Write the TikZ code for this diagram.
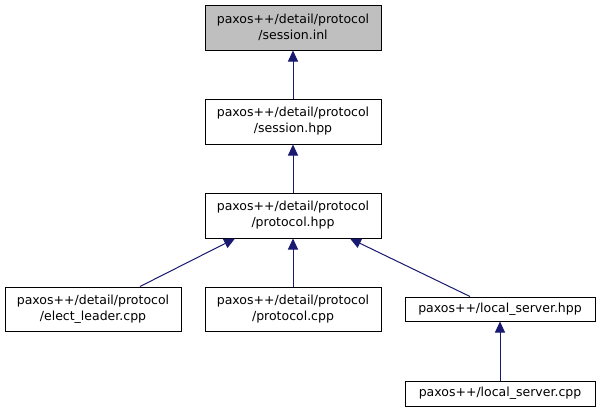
\documentclass[tikz,border=0pt]{standalone}
\usepackage{fontspec}
\setmainfont{DejaVu Sans}
\usetikzlibrary{arrows.meta}
\definecolor{edgeblue}{HTML}{191970}
\definecolor{grayfill}{HTML}{BFBFBF}
\tikzset{
  box/.style={draw=black, line width=1pt, fill=white, minimum width=176pt, minimum height=45pt, inner sep=0pt, align=center, font=\fontsize{12.5}{16}\selectfont},
  arr/.style={draw=edgeblue, line width=1pt, -{Triangle[length=11pt,width=10pt]}, shorten >=0pt}
}
\begin{document}
\begin{tikzpicture}[x=1pt,y=-1pt]
\useasboundingbox (0,0) rectangle (600,413);
\node[box, fill=grayfill] (inl) at (293,27.5) {paxos++/detail/protocol\\/session.inl};
\node[box] (shpp) at (293,121.5) {paxos++/detail/protocol\\/session.hpp};
\node[box] (phpp) at (293,215.5) {paxos++/detail/protocol\\/protocol.hpp};
\node[box, minimum height=44pt] (elect) at (93,309) {paxos++/detail/protocol\\/elect\_leader.cpp};
\node[box, minimum height=44pt] (pcpp) at (293,309) {paxos++/detail/protocol\\/protocol.cpp};
\node[box, minimum width=190pt, minimum height=24pt] (lhpp) at (500,309) {paxos++/local\_server.hpp};
\node[box, minimum width=190pt, minimum height=25pt] (lcpp) at (500,393.5) {paxos++/local\_server.cpp};
\draw[arr] (shpp.north) -- (inl.south);
\draw[arr] (phpp.north) -- (shpp.south);
\draw[arr] ([xshift=47pt]elect.north) -- ([xshift=-58pt]phpp.south);
\draw[arr] (pcpp.north) -- (phpp.south);
\draw[arr] ([xshift=-30pt]lhpp.north) -- ([xshift=57pt]phpp.south);
\draw[arr] (lcpp.north) -- (lhpp.south);
\end{tikzpicture}
\end{document}
